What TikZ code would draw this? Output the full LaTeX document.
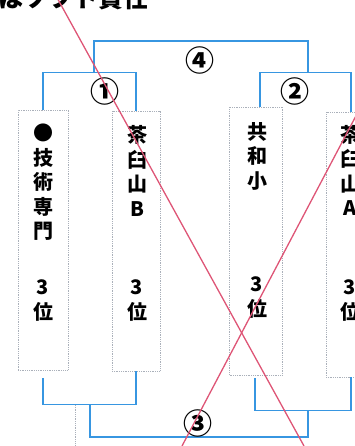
\documentclass[tikz,border=0pt]{standalone}
\usepackage{fontspec}
\setmainfont{Noto Sans CJK JP}
\usetikzlibrary{positioning}

\definecolor{bracketblue}{RGB}{55,150,225}
\definecolor{crossred}{RGB}{222,85,118}
\definecolor{boxgray}{RGB}{170,176,186}

\tikzset{
  team/.style={draw=boxgray,densely dotted,line width=0.8pt,rectangle,inner sep=0pt},
  teamtext/.style={font=\fontsize{20}{24.5}\selectfont\bfseries,align=center,inner sep=0pt},
  bracket/.style={draw=bracketblue,line width=1.5pt},
  cross/.style={draw=crossred,line width=1.3pt},
  game/.style={font=\fontsize{29}{29}\selectfont\bfseries,inner sep=0pt}
}

\begin{document}
\begin{tikzpicture}[x=1pt,y=-1pt]
\useasboundingbox (0,0) rectangle (355,446);

\node[font=\fontsize{25}{25}\selectfont\bfseries,anchor=base west,inner sep=0pt] (head) at (-2,8) {はソフト責任};

% teams
\node[team,minimum width=50pt,minimum height=260pt] (gisen) at (43,240) {};
\node[team,minimum width=48pt,minimum height=260pt] (chaB) at (136,241) {};
\node[team,minimum width=53pt,minimum height=268pt] (kyowa) at (256,241) {};
\node[team,minimum width=50pt,minimum height=265pt] (chaA) at (351,244.5) {};

\node[teamtext] (gisenname) at (43,182.5) {●\\技\\術\\専\\門};
\node[teamtext] (gisenrank) at (43,300.5) {3\\位};
\node[teamtext] (chaBname) at (137,171) {茶\\臼\\山\\B};
\node[teamtext] (chaBrank) at (137,300.5) {3\\位};
\node[teamtext] (kyowaname) at (257,156) {共\\和\\小};
\node[teamtext] (kyowarank) at (257,297.5) {3\\位};
\node[teamtext] (chaAname) at (350,170.5) {茶\\臼\\山\\A};
\node[teamtext] (chaArank) at (350,300.5) {3\\位};

% upper brackets
\draw[bracket] (gisen.north) -- ++(0,-37) -| (chaB.north);
\draw[bracket] ([xshift=4pt]kyowa.north) -- ++(0,-34) -| (chaA.north);
\coordinate (upA) at (94,73);
\coordinate (upB) at (308,73);
\draw[bracket] (upA) -- ++(0,-32) -| (upB);

% lower brackets
\draw[bracket] ([yshift=-8pt]gisen.south) -- ++(0,26) -| (chaB.south);
\draw[bracket] ([xshift=-1pt,yshift=-3pt]kyowa.south) -- ++(0,32) -| (chaA.south);
\coordinate (lowA) at (90,404);
\coordinate (lowB) at (308,410);
\draw[bracket] (lowA) |- ++(218,33) -- (lowB);

\draw[boxgray,densely dotted,line width=0.8pt] (75,405) -- (75,446);

% game numbers
\node[game] (g1) at (105,91) {①};
\node[game] (g2) at (295,91) {②};
\node[game] (g3) at (198,423) {③};
\node[game] (g4) at (200,60) {④};

% crossed out
\draw[cross] (55,-6) -- (304,446);
\draw[cross] (182,446) -- (358,112);
\end{tikzpicture}
\end{document}
